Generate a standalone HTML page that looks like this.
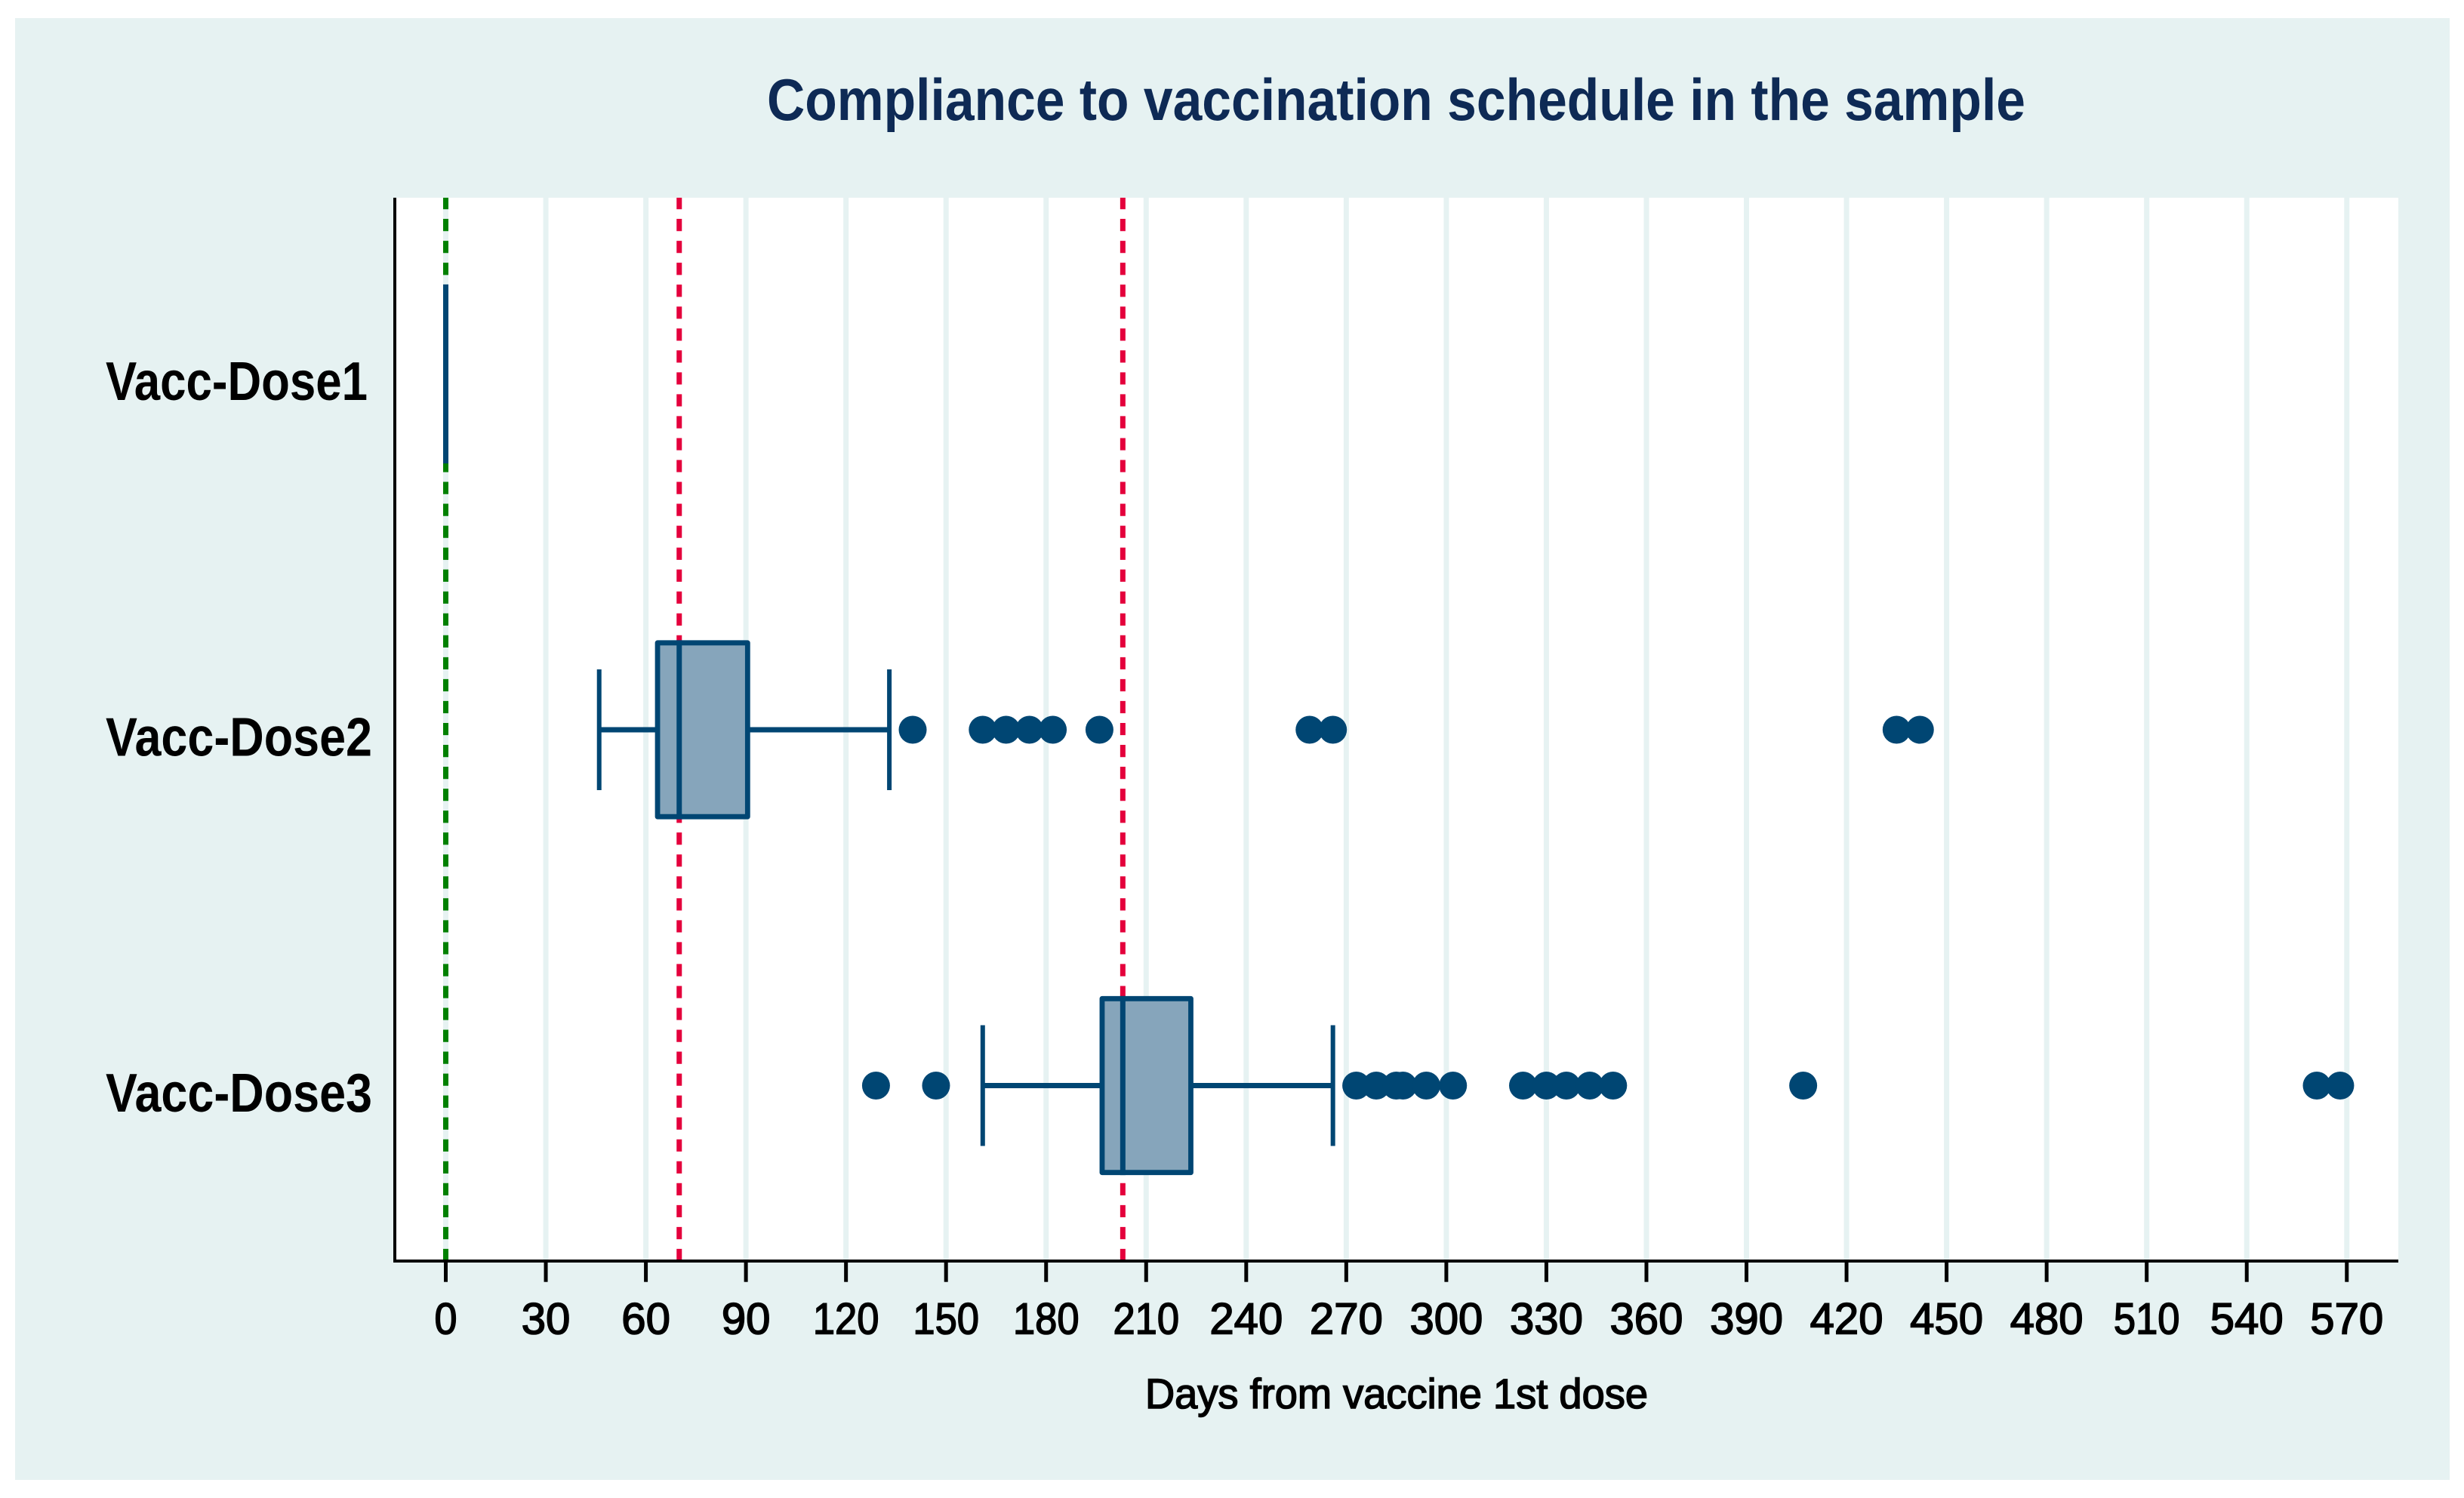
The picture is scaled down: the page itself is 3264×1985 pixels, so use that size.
<!DOCTYPE html>
<html lang="en">
<head>
<meta charset="utf-8">
<title>Compliance to vaccination schedule in the sample</title>
<style>
html,body{margin:0;padding:0;background:#fff;width:3264px;height:1985px;overflow:hidden}
svg{display:block}
text{font-family:"Liberation Sans",sans-serif}
</style>
</head>
<body>
<svg id="chart" xmlns="http://www.w3.org/2000/svg" width="3264" height="1985" viewBox="0 0 3264 1985">
  <rect x="0" y="0" width="3264" height="1985" fill="#ffffff"/>
  <rect x="20" y="24" width="3225" height="1937" fill="#e6f2f2"/>
  <rect x="523" y="262" width="2654" height="1408" fill="#ffffff"/>
  <g id="grid"></g>
  <g id="refs"></g>
  <g id="boxes"></g>
  <line x1="523" y1="262" x2="523" y2="1673" stroke="#000" stroke-width="4"/>
  <line x1="521" y1="1671" x2="3177" y2="1671" stroke="#000" stroke-width="4"/>
  <g id="ticks"></g>
  <g id="ylabels"></g>
  <text x="1016" y="159" font-size="78" font-weight="bold" fill="#0e2a55" textLength="1667" lengthAdjust="spacingAndGlyphs">Compliance to vaccination schedule in the sample</text>
  <text x="1517" y="1866" font-size="56" fill="#000" stroke="#000" stroke-width="1.6" textLength="666" lengthAdjust="spacingAndGlyphs">Days from vaccine 1st dose</text>
</svg>
<script>
const tickValues = [0,30,60,90,120,150,180,210,240,270,300,330,360,390,420,450,480,510,540,570];
const tickLabels = ["0","30","60","90","120","150","180","210","240","270","300","330","360","390","420","450","480","510","540","570"];
const categories = ["Vacc-Dose1","Vacc-Dose2","Vacc-Dose3"];
const q1Values = [0,63.5,196.8];
const medianValues = [0,70,203];
const q3Values = [0,90.5,223.4];
const whiskerLow = [0,46,161];
const whiskerHigh = [0,133,266];
const outliersDose1 = [];
const outliersDose2 = [140,161,168,175,182,196,259,266,435,442];
const outliersDose3 = [129,147,273,279,285,287,294,302,323,330,336,343,350,407,561,568];
const greenRefDays = [0];
const redRefDays = [70,203];

const NS = "http://www.w3.org/2000/svg";
const outlierSets = [outliersDose1, outliersDose2, outliersDose3];
function xScale(v){ return 590.5 + v * 4.418; }
function yScale(i){ return 495.5 + 471.5 * i; }
function mk(tag, parent, props){
  const el = document.createElementNS(NS, tag);
  for (const k in props) el.setAttribute(k, props[k]);
  parent.appendChild(el);
  return el;
}
function labelWidth(s){
  if (s.length === 1) return 30;
  let w = 0;
  for (const c of s) w += (c === "1") ? 23 : 32.3;
  return w;
}

const gridG = document.getElementById("grid");
const tickG = document.getElementById("ticks");
tickValues.forEach(function(v, i){
  const x = xScale(v);
  const g = mk("line", gridG, {x1:x, x2:x, y1:262, y2:1669, stroke:"#e6f2f2", "stroke-width":7});
  
  
  const t = mk("line", tickG, {x1:x, x2:x, y1:1671, y2:1698.7, stroke:"#000", "stroke-width":5});
  
  
  const s = tickLabels[i];
  const l = mk("text", tickG, {x:x, y:1767.5, "font-size":58, "text-anchor":"middle", fill:"#000", stroke:"#000", "stroke-width":1.6, textLength:labelWidth(s), lengthAdjust:"spacingAndGlyphs"});
  l.textContent = s;
  
  
});

const refG = document.getElementById("refs");
greenRefDays.forEach(function(v){
  const x = xScale(v);
  const r = mk("line", refG, {x1:x, x2:x, y1:262, y2:1669, stroke:"#008000", "stroke-width":7, "stroke-dasharray":"16.2 12.84", "stroke-dashoffset":1});
  
  
});
redRefDays.forEach(function(v){
  const x = xScale(v);
  const r = mk("line", refG, {x1:x, x2:x, y1:262, y2:1669, stroke:"#e4003c", "stroke-width":7, "stroke-dasharray":"16.2 12.84", "stroke-dashoffset":1});
  
  
});

const boxG = document.getElementById("boxes");
const labelG = document.getElementById("ylabels");
const navy = "#004673";
const labelWidths = [347, 353, 353];
categories.forEach(function(name, i){
  const y = yScale(i);
  const a = mk("line", boxG, {x1:xScale(whiskerLow[i]), x2:xScale(q1Values[i]), y1:y, y2:y, stroke:navy, "stroke-width":7});
  
  
  const b = mk("line", boxG, {x1:xScale(q3Values[i]), x2:xScale(whiskerHigh[i]), y1:y, y2:y, stroke:navy, "stroke-width":7});
  
  
  const c1 = mk("line", boxG, {x1:xScale(whiskerLow[i]), x2:xScale(whiskerLow[i]), y1:y-80, y2:y+80, stroke:navy, "stroke-width":6});
  
  
  const c2 = mk("line", boxG, {x1:xScale(whiskerHigh[i]), x2:xScale(whiskerHigh[i]), y1:y-80, y2:y+80, stroke:navy, "stroke-width":6});
  
  
  const r = mk("rect", boxG, {x:xScale(q1Values[i]), y:y-115.2, width:xScale(q3Values[i])-xScale(q1Values[i]), height:230.4, fill:"#86a5bb", stroke:navy, "stroke-width":6.8, "stroke-linejoin":"round"});
  
  
  const m = mk("line", boxG, {x1:xScale(medianValues[i]), x2:xScale(medianValues[i]), y1:y-118.6, y2:y+118.6, stroke:navy, "stroke-width":7});
  
  
  outlierSets[i].forEach(function(v){
    const d = mk("circle", boxG, {cx:xScale(v), cy:y, r:18.5, fill:navy});
    
    
  });
  const l = mk("text", labelG, {x:140, y:y+34.5, "font-size":72, "font-weight":"bold", fill:"#000", textLength:labelWidths[i], lengthAdjust:"spacingAndGlyphs"});
  l.textContent = name;
  
  
});
</script>
</body>
</html>
